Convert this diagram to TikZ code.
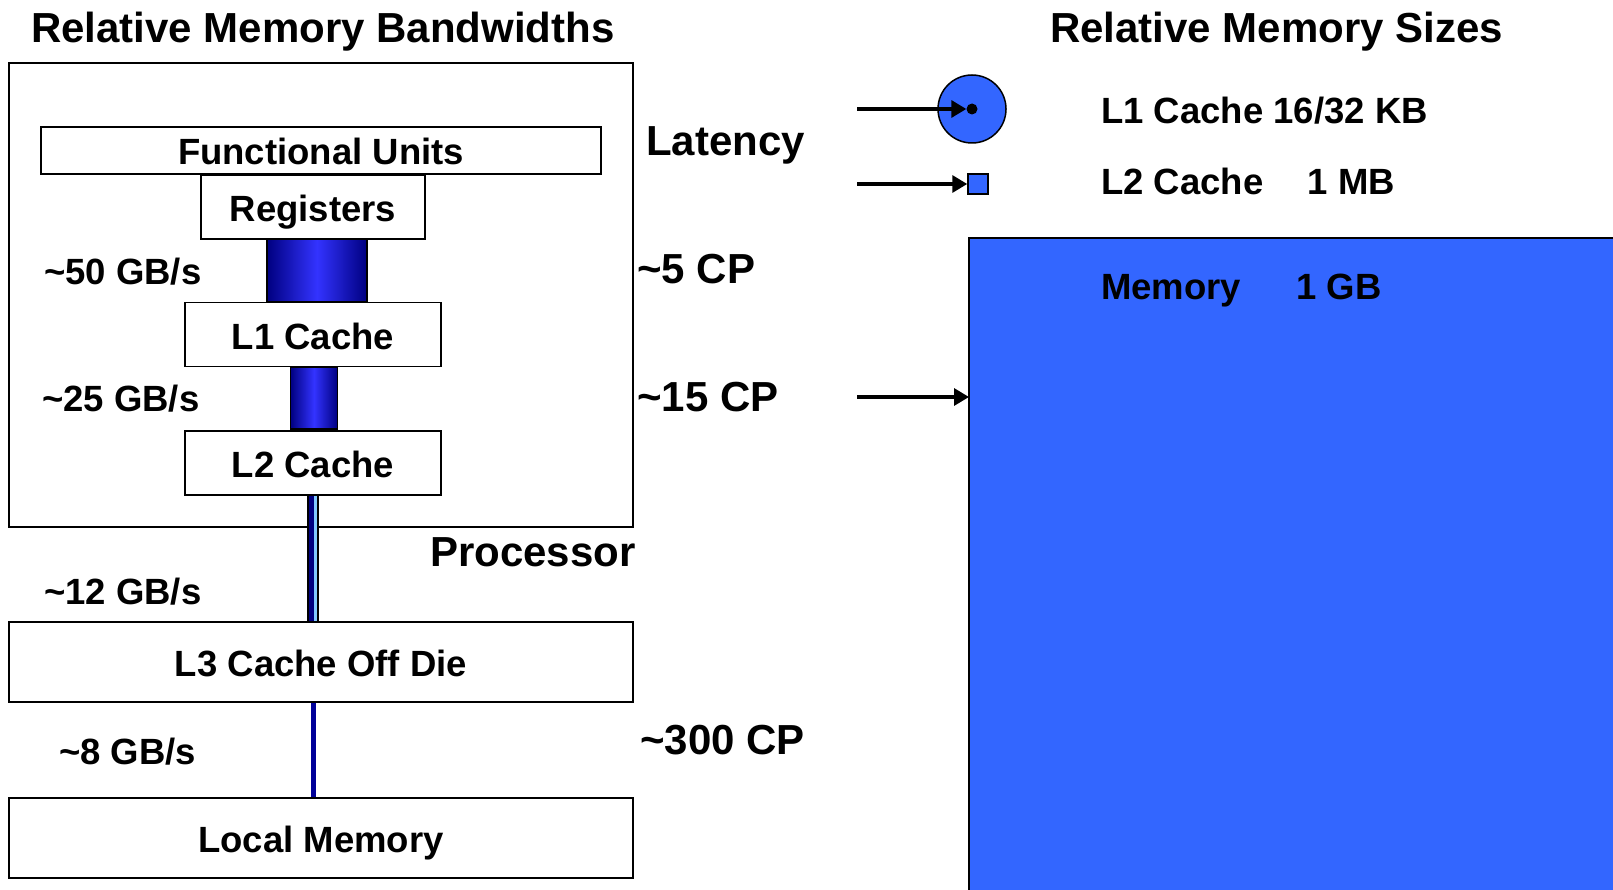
\documentclass[tikz,border=0pt]{standalone}
\usepackage{fontspec}
\setmainfont{Liberation Sans}
\usetikzlibrary{arrows.meta,calc}
\definecolor{memblue}{HTML}{3366FF}
\definecolor{navyc}{HTML}{000080}
\definecolor{brightc}{HTML}{3333FF}
\definecolor{lightc}{HTML}{80C8FF}
\definecolor{linkc}{HTML}{000099}
\begin{document}
\begin{tikzpicture}[x=1pt,y=-1pt,
 box/.style={draw=black,line width=1.5pt,fill=white,inner sep=0pt,text height=29pt,text depth=0pt,font=\fontsize{36.5}{40}\selectfont\bfseries},
 lbl/.style={inner sep=0pt,anchor=base west,font=\fontsize{36.5}{40}\selectfont\bfseries},
 big/.style={inner sep=0pt,anchor=base west,font=\fontsize{42}{46}\selectfont\bfseries},
 pipe/.style={draw=black,line width=1.5pt,left color=navyc,right color=navyc,middle color=brightc,inner sep=0pt},
 arr/.style={line width=3.3pt,-{Triangle[length=15pt 0 0,width=17pt 0 0]}}]
\useasboundingbox (0,0) rectangle (1613,890);
\fill[white] (0,0) rectangle (1613,890);

% titles
\node[big] (t1) at (31,43) {Relative Memory Bandwidths};
\node[big] (t2) at (1050,43) {Relative Memory Sizes};

% processor
\node[draw=black,line width=1.5pt,minimum width=624pt,minimum height=464pt,inner sep=0pt] (proc) at (321,295) {};
\node[box,minimum width=560pt,minimum height=47pt] (fu) at (321,150.5) {Functional Units};
\node[box,minimum width=224pt,minimum height=64pt] (reg) at (313,207) {Registers};
\node[box,minimum width=256pt,minimum height=64pt] (l1) at (313,334.5) {L1 Cache};
\node[box,minimum width=256pt,minimum height=64pt] (l2) at (313,463) {L2 Cache};
\node[box,minimum width=624pt,minimum height=80pt] (l3) at (321,662) {L3 Cache Off Die};
\node[box,minimum width=624pt,minimum height=80pt] (lm) at (321,838) {Local Memory};

% pipes
\node[pipe,minimum width=100pt,minimum height=62pt] (p1) at (317,270.5) {};
\node[pipe,minimum width=47pt,minimum height=62pt] (p2) at (314,398) {};
\fill[navyc] ($(l2.south)+(-4.5,0)$) rectangle ($(l2.south |- l3.north)+(0.5,0)$);
\fill[lightc] ($(l2.south)+(0.5,0)$) rectangle ($(l2.south |- l3.north)+(4.5,0)$);
\draw[line width=1.3pt] ($(l2.south)+(-5,0)$) rectangle ($(l2.south |- l3.north)+(5,0)$);
\draw[linkc,line width=5pt] (l2.south |- l3.south) -- (l2.south |- lm.north);

% bandwidth labels
\node[lbl] (b1) at (44,285) {\textasciitilde50 GB/s};
\node[lbl] (b2) at (42,411) {\textasciitilde25 GB/s};
\node[lbl] (b3) at (44,604) {\textasciitilde12 GB/s};
\node[lbl] (b4) at (59,764) {\textasciitilde8 GB/s};

% latency labels
\node[big] (lat) at (646,156) {Latency};
\node[big] (c5) at (637,284) {\textasciitilde5 CP};
\node[big] (c15) at (637,411) {\textasciitilde15 CP};
\node[big] (pr) at (430,566) {Processor};
\node[big] (c300) at (640,754) {\textasciitilde300 CP};

% right side
\begin{scope}
\clip (0,0) rectangle (1613,890);
\fill[memblue] (969,238) rectangle (1640,920);
\draw[line width=2pt] (969,920) -- (969,238) -- (1640,238);
\end{scope}
\coordinate (mem) at (969,397);
\node[circle,draw=black,line width=1.5pt,fill=memblue,minimum size=68pt,inner sep=0pt] (c1) at (972,109) {};
\node[circle,fill=black,minimum size=11pt,inner sep=0pt] (dot) at (c1.center) {};
\node[draw=black,line width=1.5pt,fill=memblue,minimum size=20pt,inner sep=0pt] (sq) at (978,184) {};
\coordinate (a1) at (857,109);
\coordinate (a2) at (857,184);
\coordinate (a3) at (857,397);
\draw[arr] (a1) -- (dot.west);
\draw[arr] (a2) -- (sq.west);
\draw[arr] (a3) -- (mem);

\node[lbl] (s1) at (1101,124) {L1 Cache 16/32 KB};
\node[lbl] (s2) at (1101,195) {L2 Cache\hspace{34pt} 1 MB};
\node[lbl] (s3) at (1101,300) {Memory\hspace{45pt} 1 GB};
\end{tikzpicture}
\end{document}
